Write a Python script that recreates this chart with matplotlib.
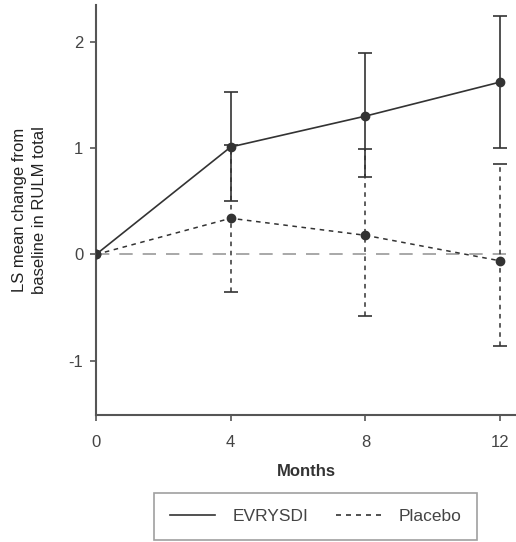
import matplotlib
matplotlib.use("Agg")
import matplotlib.pyplot as plt
from matplotlib.lines import Line2D

plt.rcParams['font.family'] = ['Liberation Sans', 'DejaVu Sans']
plt.rcParams['axes.unicode_minus'] = False

months = [0, 4, 8, 12]
# EVRYSDI LS mean change and CI bounds
evr_mean = [0, 1.01, 1.30, 1.62]
evr_low = [0, 0.50, 0.73, 1.00]
evr_high = [0, 1.53, 1.89, 2.24]
# placebo
plc_mean = [0, 0.34, 0.18, -0.06]
plc_low = [0, -0.35, -0.58, -0.86]
plc_high = [0, 1.03, 0.99, 0.85]

xticks = [0, 4, 8, 12]
yticks = [-1, 0, 1, 2]

ink = '#333333'

fig = plt.figure(figsize=(5.16, 5.42), dpi=100)
ax = fig.add_axes([0.186, 0.234, 0.814, 0.756])

# reference line at zero
ax.plot([0, 12.5], [0, 0], color='#999999', lw=1.2, ls=(0, (8, 6)), zorder=1)

def draw(mean, low, high, ls, lw):
    x = months[1:]
    m = mean[1:]
    err = [[a - b for a, b in zip(m, low[1:])], [b - a for a, b in zip(m, high[1:])]]
    eb = ax.errorbar(x, m, yerr=err, fmt='none', ecolor=ink, elinewidth=lw,
                     capsize=5, capthick=1.2, zorder=2)
    eb[2][0].set_linestyle(ls)
    ax.plot(months, mean, color=ink, ls=ls, lw=lw, marker='o', ms=6,
            mfc=ink, mec=ink, zorder=3)

draw(plc_mean, plc_low, plc_high, (0, (3, 3)), 1.1)
draw(evr_mean, evr_low, evr_high, '-', 1.2)

ax.set_xlim(0, 12.47)
ax.set_ylim(-1.51, 2.34)
ax.set_xticks(xticks)
ax.set_yticks(yticks)
ax.spines['top'].set_visible(False)
ax.spines['right'].set_visible(False)
for s in ['left', 'bottom']:
    ax.spines[s].set_color('#555555')
    ax.spines[s].set_linewidth(1.5)
ax.tick_params(colors='#555555', labelcolor='#444444', labelsize=12, length=4, width=1.2)
ax.tick_params(axis='x', pad=10)
ax.tick_params(axis='y', pad=5)
ax.set_xlabel('Months', fontsize=12, fontweight='bold', color='#333333', labelpad=10)
ax.set_ylabel('LS mean change from\nbaseline in RULM total', fontsize=12,
              color='#222222', labelpad=16, linespacing=1.35)

handles = [Line2D([], [], color=ink, lw=1.2, ls='-'),
           Line2D([], [], color=ink, lw=1.2, ls=(0, (3, 3)))]
leg = fig.legend(handles, ['EVRYSDI', 'Placebo'], ncol=2, loc='center',
                 bbox_to_anchor=(0.612, 0.047), fontsize=12.5, frameon=True,
                 fancybox=False, edgecolor='#888888', handlelength=2.6,
                 handletextpad=1.0, columnspacing=1.6, borderpad=0.9,
                 borderaxespad=0)
leg.get_frame().set_linewidth(1.2)
for t in leg.get_texts():
    t.set_color('#444444')

fig.savefig('out.png', dpi=100)
